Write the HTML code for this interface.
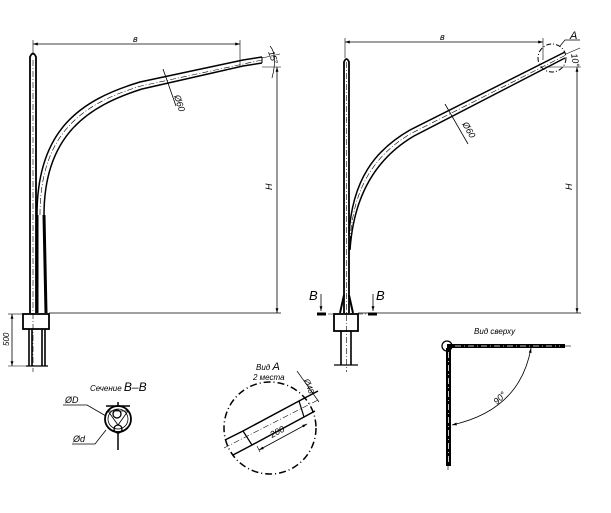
<!DOCTYPE html>
<html><head><meta charset="utf-8"><style>
html,body{margin:0;padding:0;background:#fff;}
svg{display:block;}
text{font-family:"Liberation Sans","DejaVu Sans",sans-serif;font-style:italic;fill:#000;}
</style></head><body>
<svg width="611" height="513" viewBox="0 0 611 513" xmlns="http://www.w3.org/2000/svg">
<defs>
<marker id="ar" viewBox="0 0 10 10" refX="10" refY="5" markerWidth="6" markerHeight="6" orient="auto-start-reverse"><path d="M0,2 L10,5 L0,8z" fill="#000"/></marker>
</defs>
<g stroke="#000" fill="none">
<!-- LEFT DRAWING -->
<path d="M30,313 L30,57 Q33,50 36,57 L36,313" stroke-width="1.8"/>
<line x1="33" y1="60" x2="33" y2="372" stroke-width="0.6" stroke-dasharray="6,2,1,2"/>
<path d="M37,215 C37,130 80,100 140,82 L243,60 L262,57" stroke-width="1.5"/>
<path d="M44,215 C44,135 88,106 142,89 L243,66 L262,63" stroke-width="1.5"/>
<path d="M40,215 C40,132 84,103 141,86 L262,60" stroke-width="0.6" stroke-dasharray="6,2,1,2"/>
<line x1="262" y1="57" x2="262" y2="63" stroke-width="1"/>
<path d="M37,215 L37,313 M44,215 L46,313" stroke-width="3"/>
<rect x="23" y="314" width="26" height="15" stroke-width="1.8"/>
<path d="M29,329 L29,366 M45,329 L45,366 M32,329 L32,366 M42,329 L42,366" stroke-width="1.6"/>
<line x1="26" y1="366" x2="48" y2="366" stroke-width="1.2"/>
<line x1="33" y1="44" x2="240" y2="44" stroke-width="0.8" marker-start="url(#ar)" marker-end="url(#ar)"/>
<line x1="33" y1="40" x2="33" y2="55" stroke-width="0.6"/>
<line x1="240" y1="40" x2="240" y2="66" stroke-width="0.6"/>
<line x1="49" y1="313" x2="281" y2="313" stroke-width="0.8"/>
<line x1="262" y1="67" x2="281" y2="67" stroke-width="0.6"/>
<line x1="277" y1="67" x2="277" y2="313" stroke-width="0.8" marker-start="url(#ar)" marker-end="url(#ar)"/>
<line x1="262" y1="58" x2="280" y2="54" stroke-width="0.6"/>
<path d="M270,46 Q278,55 272,78" stroke-width="0.7"/>
<line x1="8" y1="314" x2="23" y2="314" stroke-width="0.6"/>
<line x1="8" y1="366" x2="26" y2="366" stroke-width="0.6"/>
<line x1="12" y1="314" x2="12" y2="366" stroke-width="0.8" marker-start="url(#ar)" marker-end="url(#ar)"/>
<line x1="163" y1="69" x2="176" y2="106" stroke-width="0.8"/>
<!-- RIGHT DRAWING -->
<path d="M344,313 L344,62 Q346.5,56 349,62 L349,313" stroke-width="1.8"/>
<line x1="346.5" y1="62" x2="346.5" y2="372" stroke-width="0.6" stroke-dasharray="6,2,1,2"/>
<path d="M349,235 C352,180 375,150 410,130 L565,52" stroke-width="1.5"/>
<path d="M350,250 C354,190 380,156 414,136 L565,58" stroke-width="1.5"/>
<path d="M350,242 C353,185 377,153 412,133 L566,55" stroke-width="0.6" stroke-dasharray="6,2,1,2"/>
<path d="M344,295 L340,313 M349,295 L353,313" stroke-width="2"/>
<rect x="334" y="314" width="24" height="17" stroke-width="1.8"/>
<path d="M341,331 L341,365 M351,331 L351,365" stroke-width="1.6"/>
<line x1="334" y1="365" x2="358" y2="365" stroke-width="1.2"/>
<line x1="318" y1="314" x2="376" y2="314" stroke-width="0.6" stroke-dasharray="5,2,1,2"/>
<path d="M317,314 L326,314 M368,314 L377,314" stroke-width="3"/>
<line x1="321" y1="294" x2="321" y2="311" stroke-width="0.8" marker-end="url(#ar)"/>
<line x1="373" y1="294" x2="373" y2="311" stroke-width="0.8" marker-end="url(#ar)"/>
<line x1="345" y1="42" x2="543" y2="42" stroke-width="0.8" marker-start="url(#ar)" marker-end="url(#ar)"/>
<line x1="345" y1="38" x2="345" y2="58" stroke-width="0.6"/>
<line x1="543" y1="38" x2="543" y2="60" stroke-width="0.6"/>
<line x1="358" y1="313" x2="581" y2="313" stroke-width="0.8"/>
<line x1="545" y1="67" x2="581" y2="67" stroke-width="0.6"/>
<line x1="577" y1="67" x2="577" y2="313" stroke-width="0.8" marker-start="url(#ar)" marker-end="url(#ar)"/>
<circle cx="552" cy="58" r="14" stroke-width="1" stroke-dasharray="5,2,1,2"/>
<path d="M560,46 L565,40 L580,40" stroke-width="0.7"/>
<line x1="566" y1="54" x2="580" y2="48" stroke-width="0.6"/>
<line x1="445" y1="104" x2="468" y2="144" stroke-width="0.8"/>
<!-- SECTION B-B -->
<circle cx="118" cy="419" r="13" stroke-width="1.8"/>
<circle cx="118" cy="419" r="10" stroke-width="0.8"/>
<circle cx="117" cy="414" r="4" stroke-width="1.3"/>
<circle cx="118" cy="429" r="4" stroke-width="1.3"/>
<path d="M106,406 L130,406 M118,402 L118,406 M118,433 L118,450" stroke-width="1.5"/>
<path d="M108,411 L128,411 M108,411 L118,425 L128,411" stroke-width="0.8"/>
<path d="M63,405 L87,405 L106,416" stroke-width="0.8"/>
<path d="M72,444 L95,444 L106,430" stroke-width="0.8"/>
<!-- VIEW A -->
<circle cx="270" cy="428" r="46" stroke-width="1.5" stroke-dasharray="7,3,1,3"/>
<path d="M225,440 L243,431 L299,401 L318,391" stroke-width="1.5"/>
<path d="M233,455 L252,445 L304,417 L315,411" stroke-width="1.5"/>
<line x1="243" y1="431" x2="252" y2="445" stroke-width="1.2"/>
<line x1="299" y1="401" x2="304" y2="417" stroke-width="1.2"/>
<line x1="224" y1="448" x2="318" y2="400" stroke-width="0.6" stroke-dasharray="6,2,1,2"/>
<line x1="257" y1="446" x2="260" y2="452" stroke-width="0.6"/>
<line x1="259" y1="450" x2="307" y2="424" stroke-width="0.8" marker-start="url(#ar)" marker-end="url(#ar)"/>
<line x1="297" y1="371" x2="319" y2="402" stroke-width="0.7"/>
<!-- TOP VIEW -->
<circle cx="447" cy="346" r="5" stroke-width="1.3"/>
<rect x="447" y="344" width="118" height="4" fill="#000" stroke="none"/>
<rect x="446" y="348" width="5" height="118" fill="#000" stroke="none"/>
<line x1="455" y1="346" x2="560" y2="346" stroke="#fff" stroke-width="0.8" stroke-dasharray="6,3,1,3"/>
<line x1="448.5" y1="352" x2="448.5" y2="462" stroke="#fff" stroke-width="0.8" stroke-dasharray="6,3,1,3"/>
<line x1="560" y1="346" x2="571" y2="346" stroke-width="0.6"/>
<line x1="448" y1="462" x2="448" y2="470" stroke-width="0.6"/>
<path d="M531,348 Q520,410 452,425" stroke-width="0.8" marker-start="url(#ar)" marker-end="url(#ar)"/>
</g>
<g font-size="9">
<text x="133" y="42">в</text>
<text x="440" y="40">в</text>
<text x="268" y="52" transform="rotate(70 268 52)">15°</text>
<text x="571" y="54" transform="rotate(80 571 54)">10°</text>
<text x="174" y="96" transform="rotate(72 174 96)">Ø60</text>
<text x="462" y="124" transform="rotate(60 462 124)">Ø60</text>
<text x="272" y="190" transform="rotate(-90 272 190)">H</text>
<text x="572" y="190" transform="rotate(-90 572 190)">H</text>
<text x="9" y="346" transform="rotate(-90 9 346)" font-size="8">500</text>
<text x="570" y="39" font-size="11">A</text>
<text x="309" y="300" font-size="13">B</text>
<text x="376" y="300" font-size="13">B</text>
<text x="90" y="391" font-size="8">Сечение <tspan font-size="12">B–B</tspan></text>
<text x="65" y="403" font-size="9">ØD</text>
<text x="73" y="442" font-size="9">Ød</text>
<text x="256" y="370" font-size="8">Вид <tspan font-size="11">A</tspan></text>
<text x="253" y="380" font-size="8">2 места</text>
<text x="304" y="380" transform="rotate(70 304 380)" font-size="8">Ø48</text>
<text x="272" y="438" transform="rotate(-28 272 438)" font-size="9">200</text>
<text x="474" y="334" font-size="8">Вид сверху</text>
<text x="497" y="405" transform="rotate(-45 497 405)" font-size="9">90°</text>
</g>
</svg>
</body></html>
